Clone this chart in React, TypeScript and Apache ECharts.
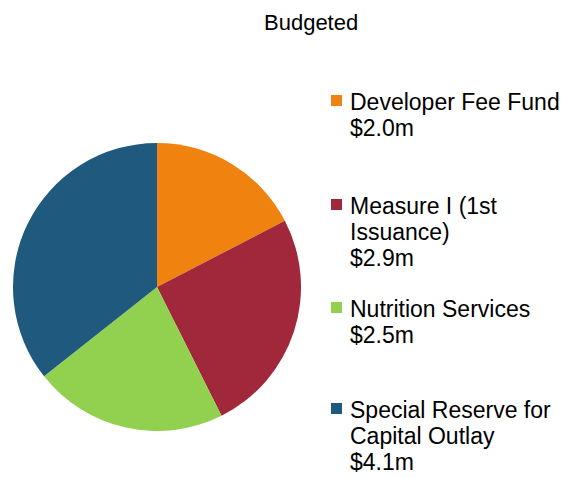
import React, { useEffect, useRef } from "react";
import * as echarts from "echarts";

const titleText = "Budgeted";
const categories = [
  "Developer Fee Fund",
  "Measure I (1st\nIssuance)",
  "Nutrition Services",
  "Special Reserve for\nCapital Outlay",
];
const values = [2.0, 2.9, 2.5, 4.1];
const valueLabels = ["$2.0m", "$2.9m", "$2.5m", "$4.1m"];
const colors = ["#F0820F", "#A0283A", "#92D050", "#1F5A7E"];

export default function App() {
  const ref = useRef<HTMLDivElement>(null);
  useEffect(() => {
    document.body.style.margin = "0";
    const chart = echarts.init(ref.current!, null, { renderer: "svg" });
    const font = "'Liberation Sans', Arial, sans-serif";
    const legendTop = [95, 199, 302, 403];
    const legendEls: any[] = [];
    categories.forEach((c, i) => {
      legendEls.push({
        type: "rect",
        shape: { x: 331, y: legendTop[i], width: 11, height: 11 },
        style: { fill: colors[i] },
      });
      legendEls.push({
        type: "text",
        x: 350,
        y: legendTop[i] - 6,
        style: {
          text: c + "\n" + valueLabels[i],
          font: `23px ${font}`,
          lineHeight: 26,
          fill: "#000",
          textVerticalAlign: "top",
        },
      });
    });
    chart.setOption({
      animation: false,
      title: {
        text: titleText,
        left: 259,
        top: 6,
        textStyle: { fontFamily: font, fontSize: 22, fontWeight: "normal", color: "#000" },
      },
      graphic: legendEls,
      series: [
        {
          type: "pie",
          center: [157, 287],
          radius: 144,
          startAngle: 90,
          clockwise: true,
          label: { show: false },
          labelLine: { show: false },
          emphasis: { disabled: true },
          itemStyle: { borderWidth: 0 },
          data: values.map((v, i) => ({
            name: categories[i],
            value: v,
            itemStyle: { color: colors[i] },
          })),
        },
      ],
    });
    return () => chart.dispose();
  }, []);
  return <div ref={ref} style={{ width: 579, height: 477, background: "#fff" }} />;
}
